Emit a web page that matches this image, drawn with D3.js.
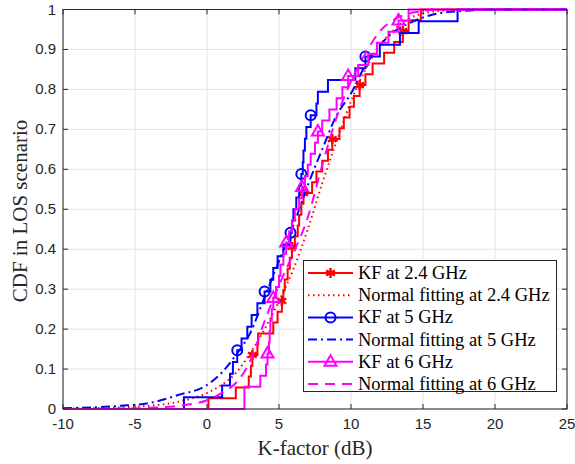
<!DOCTYPE html>
<html>
<head>
<meta charset="utf-8">
<script src="https://cdn.jsdelivr.net/npm/d3@7"></script>
<style>
  body { margin: 0; background: #fff; }
  svg { display: block; }
</style>
</head>
<body>
<div id="chart"></div>
<script>
// sorted K-factor samples (dB), one stair step per sample
var kf24 = [0.1, 2.0, 2.9, 3.05, 3.15, 3.5, 3.55, 4.6, 4.9, 5.2,
            5.3, 5.4, 5.6, 5.75, 5.9, 6.1, 6.3, 6.4, 6.55, 6.7,
            7.3, 7.6, 8.0, 8.4, 8.7, 9.2, 9.5, 9.9, 10.2, 10.6,
            11.0, 11.5, 12.3, 13.0, 13.6, 14.0, 14.85];
var kf5 = [-1.6, 1.05, 1.6, 1.8, 2.1, 2.4, 2.8, 3.1, 3.5, 4.0,
           4.4, 4.6, 4.9, 5.3, 5.8, 5.9, 6.0, 6.2, 6.4, 6.55,
           6.65, 6.7, 6.8, 6.9, 7.2, 7.6, 7.7, 8.4, 10.3, 11.0,
           12.0, 13.4, 14.7, 17.4];
var kf6 = [2.6, 2.6, 3.7, 4.1, 4.2, 4.3, 4.35, 4.4, 4.5, 4.6,
           4.8, 5.0, 5.1, 5.3, 5.5, 5.7, 5.9, 6.1, 6.4, 6.6,
           6.8, 7.0, 7.2, 7.5, 7.7, 8.0, 8.5, 9.0, 9.4, 9.8,
           10.5, 11.2, 11.8, 12.6, 13.3, 14.0];

// normal fitting curves
var fitX  = [-10, -8, -6, -4, -2, 0, 1, 2, 3, 4, 5, 6, 7, 8, 9, 10, 11, 12, 13, 14, 15, 16, 18, 20, 25];
var fit24 = [0.001, 0.002, 0.004, 0.008, 0.018, 0.04, 0.06, 0.09, 0.14, 0.2, 0.27, 0.35, 0.45, 0.565, 0.67, 0.77, 0.85, 0.91, 0.95, 0.977, 0.99, 0.996, 0.999, 1, 1];
var fit5  = [0.002, 0.004, 0.008, 0.015, 0.035, 0.06, 0.09, 0.135, 0.19, 0.28, 0.37, 0.46, 0.56, 0.65, 0.735, 0.79, 0.86, 0.91, 0.945, 0.965, 0.98, 0.99, 0.997, 1, 1];
var fit6  = [0, 0, 0.001, 0.003, 0.008, 0.022, 0.04, 0.065, 0.12, 0.22, 0.31, 0.39, 0.48, 0.61, 0.73, 0.82, 0.89, 0.945, 0.975, 0.99, 0.996, 1, 1, 1, 1];

var xTicks = [-10, -5, 0, 5, 10, 15, 20, 25];
var yTicks = [0, 0.1, 0.2, 0.3, 0.4, 0.5, 0.6, 0.7, 0.8, 0.9, 1];

var legendLabels = ["KF at 2.4 GHz", "Normal fitting at 2.4 GHz", "KF at 5 GHz",
                    "Normal fitting at 5 GHz", "KF at 6 GHz", "Normal fitting at 6 GHz"];

function init() {
    var w = 575, h = 464;
    var left = 63, right = 567, top = 9.5, bottom = 409;

    var x = d3.scaleLinear().domain([-10, 25]).range([left, right]);
    var y = d3.scaleLinear().domain([0, 1]).range([bottom, top]);

    var svg = d3.select("#chart").append("svg")
        .attr("width", w)
        .attr("height", h);

    svg.append("defs").append("clipPath").attr("id", "clip")
        .append("rect")
        .attr("x", left).attr("y", top - 2)
        .attr("width", right - left).attr("height", bottom - top + 4);

    // grid
    var grid = svg.append("g").attr("stroke", "#e3e3e3").attr("stroke-width", 1);
    xTicks.forEach(function(t) {
        grid.append("line").attr("x1", x(t)).attr("x2", x(t)).attr("y1", top).attr("y2", bottom);
    });
    yTicks.forEach(function(t) {
        grid.append("line").attr("x1", left).attr("x2", right).attr("y1", y(t)).attr("y2", y(t));
    });

    var plot = svg.append("g").attr("clip-path", "url(#clip)");

    var stairLine = d3.line()
        .x(function(d) { return x(d[0]); })
        .y(function(d) { return y(d[1]); })
        .curve(d3.curveStepAfter);

    var fitLine = d3.line()
        .x(function(d) { return x(d[0]); })
        .y(function(d) { return y(d[1]); })
        .curve(d3.curveMonotoneX);

    function ecdf(vals) {
        var n = vals.length;
        var pts = [[-10, 0]];
        vals.forEach(function(v, i) { pts.push([v, (i + 1) / n]); });
        pts.push([25, 1]);
        return pts;
    }

    var series = [
        { kind: "stairs", data: kf24, color: "#ff0000", marker: "star" },
        { kind: "fit", data: fit24, color: "#ff0000", dash: "1.5,3.5" },
        { kind: "stairs", data: kf5, color: "#0000ff", marker: "circle" },
        { kind: "fit", data: fit5, color: "#0000ff", dash: "9,4,2,4" },
        { kind: "stairs", data: kf6, color: "#ff00ff", marker: "triangle" },
        { kind: "fit", data: fit6, color: "#ff00ff", dash: "10,7" }
    ];

    function drawMarker(g, type, cx, cy, color) {
        if (type === "circle") {
            g.append("circle").attr("cx", cx).attr("cy", cy).attr("r", 5)
                .attr("fill", "none").attr("stroke", color).attr("stroke-width", 2);
        } else if (type === "triangle") {
            g.append("path")
                .attr("d", "M" + cx + "," + (cy - 6.5) + "L" + (cx + 6) + "," + (cy + 4) + "L" + (cx - 6) + "," + (cy + 4) + "Z")
                .attr("fill", "none").attr("stroke", color).attr("stroke-width", 2);
        } else {
            g.append("path")
                .attr("transform", "translate(" + cx + "," + cy + ")")
                .attr("d", d3.symbol(d3.symbolAsterisk, 70)())
                .attr("fill", "none").attr("stroke", color).attr("stroke-width", 2.5);
        }
    }

    series.forEach(function(s) {
        if (s.kind === "stairs") {
            var pts = ecdf(s.data);
            plot.append("path")
                .attr("d", stairLine(pts))
                .attr("fill", "none")
                .attr("stroke", s.color)
                .attr("stroke-width", 2);
            var mg = plot.append("g");
            pts.forEach(function(p, i) {
                if (i > 0 && i % 5 === 0 && i <= s.data.length) {
                    drawMarker(mg, s.marker, x(p[0]), y(p[1]), s.color);
                }
            });
        } else {
            var fpts = fitX.map(function(v, i) { return [v, s.data[i]]; });
            plot.append("path")
                .attr("d", fitLine(fpts))
                .attr("fill", "none")
                .attr("stroke", s.color)
                .attr("stroke-width", 2)
                .attr("stroke-dasharray", s.dash);
        }
    });

    // axes box and ticks
    var ax = svg.append("g").attr("stroke", "#262626").attr("stroke-width", 1);
    ax.append("rect").attr("x", left).attr("y", top)
        .attr("width", right - left).attr("height", bottom - top)
        .attr("fill", "none");
    xTicks.forEach(function(t) {
        ax.append("line").attr("x1", x(t)).attr("x2", x(t)).attr("y1", bottom).attr("y2", bottom - 5);
        ax.append("line").attr("x1", x(t)).attr("x2", x(t)).attr("y1", top).attr("y2", top + 5);
    });
    yTicks.forEach(function(t) {
        ax.append("line").attr("x1", left).attr("x2", left + 5).attr("y1", y(t)).attr("y2", y(t));
        ax.append("line").attr("x1", right).attr("x2", right - 5).attr("y1", y(t)).attr("y2", y(t));
    });

    var labels = svg.append("g")
        .attr("font-family", "'Liberation Sans', Arial, sans-serif")
        .attr("font-size", 15)
        .attr("fill", "#262626");
    xTicks.forEach(function(t) {
        labels.append("text").attr("x", x(t)).attr("y", bottom + 20)
            .attr("text-anchor", "middle").text(t);
    });
    yTicks.forEach(function(t) {
        labels.append("text").attr("x", left - 7).attr("y", y(t) + 5)
            .attr("text-anchor", "end").text(t);
    });

    svg.append("text")
        .attr("x", (left + right) / 2).attr("y", 455)
        .attr("text-anchor", "middle")
        .attr("font-family", "'Liberation Serif', 'Times New Roman', serif")
        .attr("font-size", 21)
        .attr("fill", "#262626")
        .text("K-factor (dB)");

    svg.append("text")
        .attr("transform", "translate(27," + 211 + ") rotate(-90)")
        .attr("text-anchor", "middle")
        .attr("font-family", "'Liberation Serif', 'Times New Roman', serif")
        .attr("font-size", 21)
        .attr("fill", "#262626")
        .text("CDF in LOS scenario");

    // legend
    var lg = svg.append("g");
    lg.append("rect").attr("x", 303.5).attr("y", 260.5).attr("width", 253).attr("height", 131)
        .attr("fill", "#fff").attr("stroke", "#262626").attr("stroke-width", 1);
    series.forEach(function(s, i) {
        var ly = 273 + i * 22.2;
        lg.append("line").attr("x1", 308).attr("x2", 353).attr("y1", ly).attr("y2", ly)
            .attr("stroke", s.color).attr("stroke-width", 2)
            .attr("stroke-dasharray", s.kind === "fit" ? s.dash : null);
        if (s.kind === "stairs") drawMarker(lg, s.marker, 330.5, ly, s.color);
        lg.append("text").attr("x", 358).attr("y", ly + 6)
            .attr("font-family", "'Liberation Serif', 'Times New Roman', serif")
            .attr("font-size", 18.5)
            .attr("fill", "#000")
            .text(legendLabels[i]);
    });
}

window.onload = init;
</script>
</body>
</html>
